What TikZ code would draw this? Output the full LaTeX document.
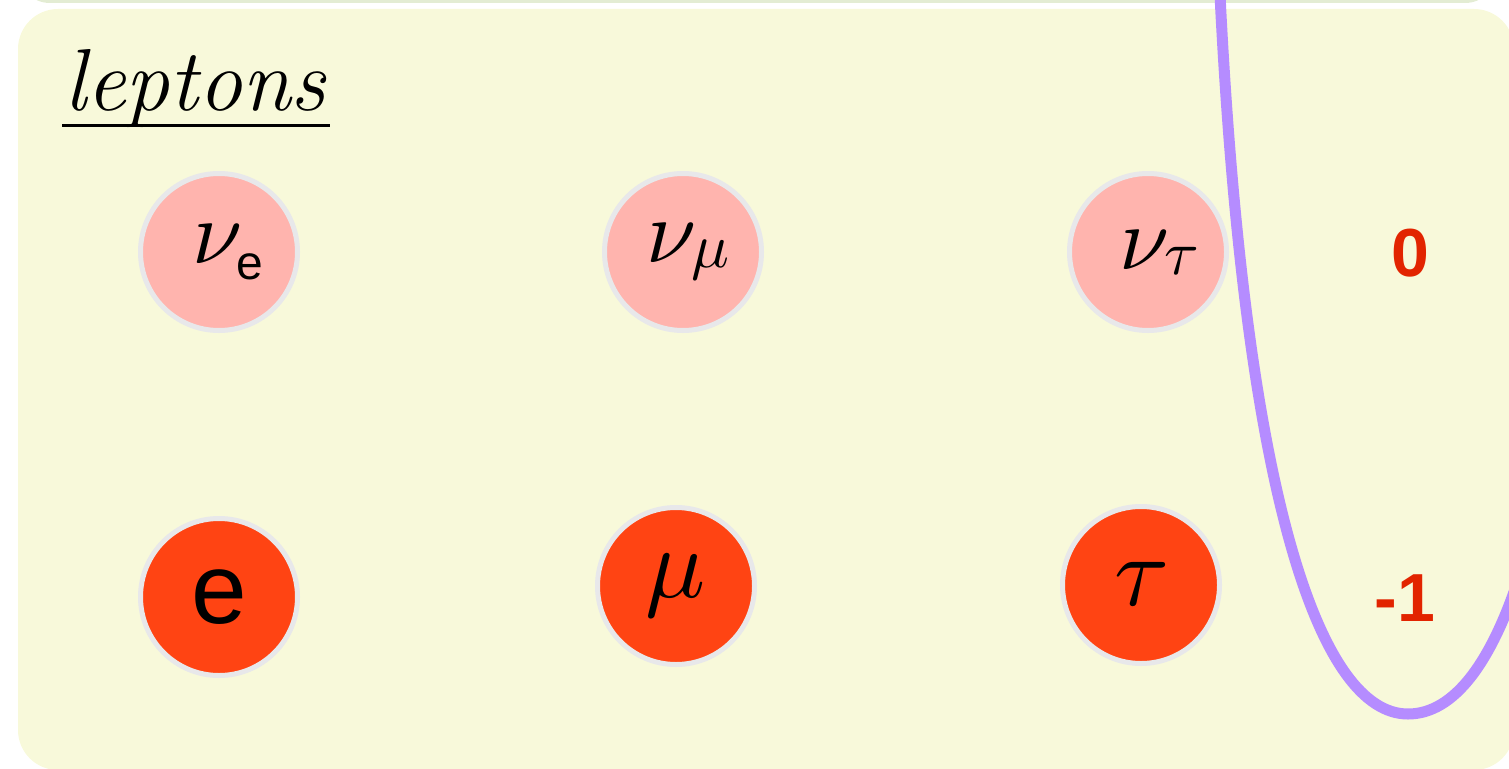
\documentclass[tikz,border=0pt]{standalone}
\usepackage{amsmath}
\usepackage{unicode-math}
\setmathfont{Latin Modern Math}
\setsansfont{Liberation Sans}

\definecolor{boxbg}{HTML}{F8F9DA}
\definecolor{topbg}{HTML}{E3ECD3}
\definecolor{ringgray}{HTML}{E8E8EA}
\definecolor{nupink}{HTML}{FFB4AE}
\definecolor{chred}{HTML}{FF4413}
\definecolor{chargered}{HTML}{E22400}
\definecolor{curvepurple}{HTML}{B58CFF}

% nu con pedice poco abbassato
\newcommand{\nusub}[2][5pt]{$\nu\mkern-1mu\lower#1\hbox{#2}$}

\begin{document}
\begin{tikzpicture}[x=1pt, y=-1pt,
    lepton/.style={circle, draw=ringgray, line width=5pt, minimum size=157pt, inner sep=0pt},
    neutrino/.style={lepton, fill=nupink, font=\fontsize{90}{90}\selectfont},
    charged/.style={lepton, fill=chred, font=\fontsize{100}{100}\selectfont},
    charge/.style={text=chargered, font=\fontsize{68}{68}\selectfont\sffamily\bfseries, inner sep=0pt}]
    \useasboundingbox (0,0) rectangle (1509,768);
    \clip (0,0) rectangle (1509,768);

    % Riquadri di sfondo
    \fill[topbg, rounded corners=32pt] (18,-60) rectangle (1497,3);
    \fill[boxbg, rounded corners=40pt] (18,9) rectangle (1514,770);

    % Titolo
    \node[anchor=base west, inner sep=0pt, font=\fontsize{88}{88}\selectfont\itshape] (title) at (64,110) {leptons};
    \draw[line width=3pt] (62,125) -- (330,125);

    % Neutrini
    \node[neutrino] (nue) at (219,252) {\hspace{18pt}\nusub[16pt]{\fontsize{48}{48}\selectfont\sffamily e}};
    \node[neutrino] (numu) at (683,252) {\hspace{10pt}\nusub{$\scriptstyle\mu$}};
    \node[neutrino] (nutau) at (1148,252) {\hspace{22pt}\nusub{$\scriptstyle\tau$}};

    % Leptoni carichi
    \node[charged] (el) at (219,597) {\sffamily e};
    \node[charged] (mu) at (676,586) {$\mu$};
    \node[charged] (tau) at (1141,585) {$\tau$};

    % Curva
    \draw[curvepurple, line width=11pt] (1220,-5) .. controls (1245,500) and (1320,714) .. (1408,714)
        .. controls (1497,714) and (1575,520) .. (1590,0);

    % Cariche
    \node[charge] (q0) at (1410,253) {0};
    \node[charge] (q1) at (1405,598) {-1};
\end{tikzpicture}
\end{document}
